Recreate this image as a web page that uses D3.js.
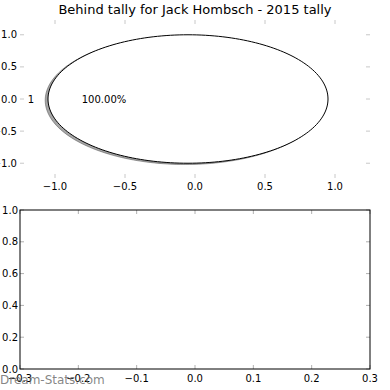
<!DOCTYPE html>
<html>
<head>
<meta charset="utf-8">
<script src="https://cdn.jsdelivr.net/npm/d3@7"></script>
<style>
  body { margin: 0; background: #fff; }
  svg { font-family: "DejaVu Sans", sans-serif; display: block; }
</style>
</head>
<body>
<div id="vis"></div>
<script>
// pie data
const pieLabels = ['1']
const pieValues = [100]
const explodeBy = [0.05]

// axis ticks
const pieTicks = [-1.0, -0.5, 0.0, 0.5, 1.0]
const bottomXTicks = [-0.3, -0.2, -0.1, 0.0, 0.1, 0.2, 0.3]
const bottomYTicks = [0.0, 0.2, 0.4, 0.6, 0.8, 1.0]

const titleText = 'Behind tally for Jack Hombsch - 2015 tally'
const watermark = 'Dream-Stats.com'

const W = 390, H = 390
const top1 = {left: 20, right: 370, top: 20, bottom: 178}
const bot = {left: 20, right: 370, top: 210, bottom: 369}

let svg = d3.select('#vis').append('svg')
    .attr('width', W)
    .attr('height', H)

let x1 = d3.scaleLinear([-1.25, 1.25], [top1.left, top1.right])
let y1 = d3.scaleLinear([-1.23, 1.23], [top1.bottom, top1.top])

let x2 = d3.scaleLinear([-0.3, 0.3], [bot.left, bot.right])
let y2 = d3.scaleLinear([0, 1], [bot.bottom, bot.top])

const fmt = d => d3.format('.1f')(d).replace('-', '\u2212')

// title
svg.append('text')
    .attr('x', (top1.left + top1.right) / 2)
    .attr('y', 14)
    .attr('text-anchor', 'middle')
    .attr('font-size', 13)
    .text(titleText)

// tick marks for an axes box (inward, all four sides)
function drawTicks(g, xs, ys, xTicks, yTicks, box, color){
    xTicks.forEach(t => {
        g.append('line').attr('x1', xs(t)).attr('x2', xs(t))
            .attr('y1', box.bottom).attr('y2', box.bottom - 4)
            .attr('stroke', color)
        g.append('line').attr('x1', xs(t)).attr('x2', xs(t))
            .attr('y1', box.top).attr('y2', box.top + 4)
            .attr('stroke', color)
    })
    yTicks.forEach(t => {
        g.append('line').attr('y1', ys(t)).attr('y2', ys(t))
            .attr('x1', box.left).attr('x2', box.left + 4)
            .attr('stroke', color)
        g.append('line').attr('y1', ys(t)).attr('y2', ys(t))
            .attr('x1', box.right).attr('x2', box.right - 4)
            .attr('stroke', color)
    })
}

// ---- top axes: pie, no frame ----
let g1 = svg.append('g')
drawTicks(g1, x1, y1, pieTicks, pieTicks, top1, '#c8c8c8')

let pie = d3.pie().sort(null).startAngle(0).endAngle(2 * Math.PI)
let arcs = pie(pieValues)

// matplotlib angles: counter-clockwise from +x axis
function wedgePoints(a, cx, cy){
    let pts = []
    let n = 200
    for (let k = 0; k <= n; k++) {
        let t = a.startAngle + (a.endAngle - a.startAngle) * k / n
        pts.push([cx + Math.cos(t), cy + Math.sin(t)])
    }
    return pts
}

let line1 = d3.line().x(d => x1(d[0])).y(d => y1(d[1]))

arcs.forEach((a, i) => {
    let mid = (a.startAngle + a.endAngle) / 2
    let cx = explodeBy[i] * Math.cos(mid)
    let cy = explodeBy[i] * Math.sin(mid)
    let pts = wedgePoints(a, cx, cy)
    // shadow
    g1.append('path')
        .attr('d', line1(pts.map(p => [p[0] - 0.02, p[1] - 0.02])) + 'Z')
        .attr('fill', '#4d4d4d')
        .attr('fill-opacity', 0.5)
        .attr('stroke', '#4d4d4d')
        .attr('stroke-opacity', 0.5)
    g1.append('path')
        .attr('d', line1(pts) + 'Z')
        .attr('fill', '#fff')
        .attr('stroke', '#000')
        .attr('stroke-width', 1)

    let lx = cx + 1.1 * Math.cos(mid)
    g1.append('text')
        .attr('x', x1(lx))
        .attr('y', y1(cy + 1.1 * Math.sin(mid)))
        .attr('dy', '0.35em')
        .attr('text-anchor', lx < 0 ? 'end' : 'start')
        .attr('font-size', 10)
        .text(pieLabels[i])
    g1.append('text')
        .attr('x', x1(cx + 0.6 * Math.cos(mid)))
        .attr('y', y1(cy + 0.6 * Math.sin(mid)))
        .attr('dy', '0.35em')
        .attr('text-anchor', 'middle')
        .attr('font-size', 10)
        .text(d3.format('.2f')(pieValues[i] / d3.sum(pieValues) * 100) + '%')
})

g1.selectAll('.xl').data(pieTicks).enter().append('text')
    .attr('x', d => x1(d)).attr('y', top1.bottom + 12)
    .attr('text-anchor', 'middle').attr('font-size', 10)
    .text(fmt)
g1.selectAll('.yl').data(pieTicks).enter().append('text')
    .attr('x', top1.left - 3).attr('y', d => y1(d)).attr('dy', '0.35em')
    .attr('text-anchor', 'end').attr('font-size', 10)
    .text(fmt)

// ---- bottom axes: empty ----
let g2 = svg.append('g')
drawTicks(g2, x2, y2, bottomXTicks, bottomYTicks, bot, '#b0b0b0')
g2.append('rect')
    .attr('x', bot.left).attr('y', bot.top)
    .attr('width', bot.right - bot.left).attr('height', bot.bottom - bot.top)
    .attr('fill', 'none').attr('stroke', '#000')

g2.selectAll('.xl').data(bottomXTicks).enter().append('text')
    .attr('x', d => x2(d)).attr('y', bot.bottom + 13)
    .attr('text-anchor', 'middle').attr('font-size', 10)
    .text(fmt)
g2.selectAll('.yl').data(bottomYTicks).enter().append('text')
    .attr('x', bot.left - 2).attr('y', d => y2(d)).attr('dy', '0.35em')
    .attr('text-anchor', 'end').attr('font-size', 10)
    .text(fmt)

// watermark
svg.append('text')
    .attr('x', 0).attr('y', 384)
    .attr('font-size', 12)
    .attr('fill', '#707070')
    .attr('fill-opacity', 0.85)
    .text(watermark)
</script>
</body>
</html>
